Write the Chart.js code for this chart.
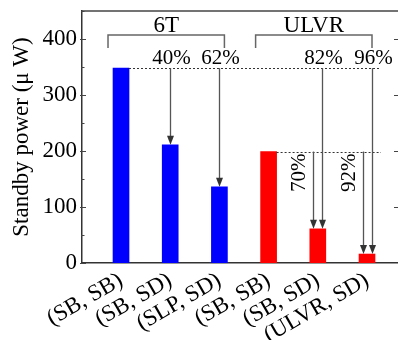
<!DOCTYPE html>
<html>
<head>
<meta charset="utf-8">
<script src="https://cdn.jsdelivr.net/npm/chart.js@4/dist/chart.umd.min.js"></script>
<style>
  body { margin: 0; background: #fff; overflow: hidden; }
  #wrap { width: 398px; height: 340px; }
</style>
</head>
<body>
<div id="wrap"><canvas id="c"></canvas></div>
<script>
// data
const categories = ['(SB, SB)', '(SB, SD)', '(SLP, SD)', '(SB, SB)', '(SB, SD)', '(ULVR, SD)'];
const power6T = [348, 211, 136];
const powerULVR = [199, 61, 16];
const groupNames = ['6T', 'ULVR'];
const yTicks = [0, 100, 200, 300, 400];
const cutFromFirst = ['40%', '62%', '82%', '96%'];   // vs. 6T (SB, SB)
const cutFromULVR = ['70%', '92%'];                  // vs. ULVR (SB, SB)

const values = power6T.concat(powerULVR);
const colors = values.map((v, i) => i < power6T.length ? '#0000ff' : '#ff0000');
const FONT = 'Liberation Serif';

// brackets, dotted reference lines and arrows
const notes = {
  id: 'notes',
  afterDraw(chart) {
    const ctx = chart.ctx;
    const xs = chart.scales.x, ys = chart.scales.y;
    const a = chart.chartArea;
    const X = i => xs.getPixelForValue(i + 1);
    const Y = v => ys.getPixelForValue(v);
    ctx.save();

    // top frame and tick marks
    ctx.strokeStyle = '#444';
    ctx.lineWidth = 1.5;
    ctx.beginPath();
    ctx.moveTo(a.left, a.top);
    ctx.lineTo(a.right, a.top);
    ctx.stroke();
    ctx.lineWidth = 1;
    for (let v = 0; v <= 450; v += 50) {
      const y = Math.round(Y(v)) + 0.5;
      const major = v % 100 === 0;
      ctx.beginPath();
      ctx.moveTo(a.left - (major ? 2 : 1), y);
      ctx.lineTo(a.left + (major ? 4 : 2.5), y);
      if (major && v > 0) {
        ctx.moveTo(a.right - 4, y);
        ctx.lineTo(a.right, y);
      }
      ctx.stroke();
    }

    // group brackets
    const groups = [[0, power6T.length - 1], [power6T.length, values.length - 1]];
    ctx.strokeStyle = '#666';
    ctx.lineWidth = 1.5;
    ctx.fillStyle = '#000';
    ctx.font = '23px "' + FONT + '"';
    ctx.textAlign = 'center';
    ctx.textBaseline = 'alphabetic';
    groups.forEach((g, k) => {
      const l = X(g[0]) - 13, r = X(g[1]) + 5;
      const yb = a.top + 24;
      ctx.beginPath();
      ctx.moveTo(l, yb + 13);
      ctx.lineTo(l, yb);
      ctx.lineTo(r, yb);
      ctx.lineTo(r, yb + 13);
      ctx.stroke();
      ctx.fillText(groupNames[k], (l + r) / 2, yb - 3);
    });

    // dotted reference lines
    const base6T = values[0], baseU = values[power6T.length];
    const xEnd = X(values.length - 1) + 14;
    ctx.strokeStyle = '#333';
    ctx.lineWidth = 1;
    ctx.setLineDash([2, 2]);
    ctx.beginPath();
    ctx.moveTo(X(0) + 8, Math.round(Y(base6T)) + 0.5);
    ctx.lineTo(xEnd, Math.round(Y(base6T)) + 0.5);
    ctx.moveTo(X(power6T.length) + 8, Math.round(Y(baseU)) + 0.5);
    ctx.lineTo(xEnd, Math.round(Y(baseU)) + 0.5);
    ctx.stroke();
    ctx.setLineDash([]);

    function arrow(x, y0, y1) {
      ctx.strokeStyle = '#555';
      ctx.fillStyle = '#333';
      ctx.lineWidth = 1.3;
      ctx.beginPath();
      ctx.moveTo(x, y0);
      ctx.lineTo(x, y1 - 7);
      ctx.stroke();
      ctx.beginPath();
      ctx.moveTo(x, y1);
      ctx.lineTo(x - 3.5, y1 - 9);
      ctx.lineTo(x + 3.5, y1 - 9);
      ctx.closePath();
      ctx.fill();
    }

    // arrows from the 6T (SB, SB) level
    const fromFirst = [1, 2, 4, 5];
    ctx.font = '21px "' + FONT + '"';
    fromFirst.forEach((i, k) => {
      const dx = i >= power6T.length + 1 ? 4.5 : 0;
      const x = Math.round(X(i) + dx) + 0.5;
      arrow(x, Y(base6T), Y(values[i]));
      ctx.fillStyle = '#000';
      ctx.textAlign = 'center';
      ctx.textBaseline = 'alphabetic';
      ctx.fillText(cutFromFirst[k], x + 1, Y(base6T) - 4);
    });

    // arrows from the ULVR (SB, SB) level
    const fromULVR = [4, 5];
    fromULVR.forEach((i, k) => {
      const x = Math.round(X(i) - 4.5) + 0.5;
      arrow(x, Y(baseU), Y(values[i]));
      ctx.save();
      ctx.fillStyle = '#000';
      ctx.translate(x - 14, Y(baseU) + 2);
      ctx.rotate(-Math.PI / 2);
      ctx.textAlign = 'right';
      ctx.textBaseline = 'middle';
      ctx.fillText(cutFromULVR[k], 0, 0);
      ctx.restore();
    });

    ctx.restore();
  }
};

new Chart(document.getElementById('c'), {
  type: 'bar',
  data: {
    datasets: [{
      data: values.map((v, i) => ({ x: i + 1, y: v })),
      backgroundColor: colors,
      borderWidth: 0,
      barThickness: 16
    }]
  },
  options: {
    responsive: true,
    maintainAspectRatio: false,
    animation: false,
    layout: { padding: { top: 11, right: 0, left: 0, bottom: 0 } },
    plugins: { legend: { display: false }, tooltip: { enabled: false } },
    scales: {
      x: {
        type: 'linear',
        offset: false,
        min: 0.207,
        max: 6.63,
        afterBuildTicks: s => { s.ticks = categories.map((c, i) => ({ value: i + 1 })); },
        afterFit: s => { s.height = 77; s.paddingLeft = 0; s.paddingRight = 0; },
        grid: { display: false, drawTicks: false, offset: false },
        border: { display: true, color: '#333', width: 1.5 },
        ticks: {
          autoSkip: false,
          minRotation: 30,
          maxRotation: 30,
          padding: 4,
          color: '#000',
          font: { family: FONT, size: 23 },
          callback: v => categories[v - 1]
        }
      },
      y: {
        min: 0,
        max: 450,
        afterBuildTicks: s => { s.ticks = yTicks.map(v => ({ value: v })); },
        afterFit: s => { s.width = 82; s.paddingTop = 0; s.paddingBottom = 0; },
        grid: { display: false, drawTicks: false },
        border: { display: true, color: '#333', width: 1.5 },
        ticks: {
          padding: 5,
          color: '#000',
          font: { family: FONT, size: 23 }
        },
        title: {
          display: true,
          text: 'Standby power (μ W)',
          color: '#000',
          font: { family: FONT, size: 23 },
          padding: { top: 8, bottom: 0 }
        }
      }
    }
  },
  plugins: [notes]
});
</script>
</body>
</html>
